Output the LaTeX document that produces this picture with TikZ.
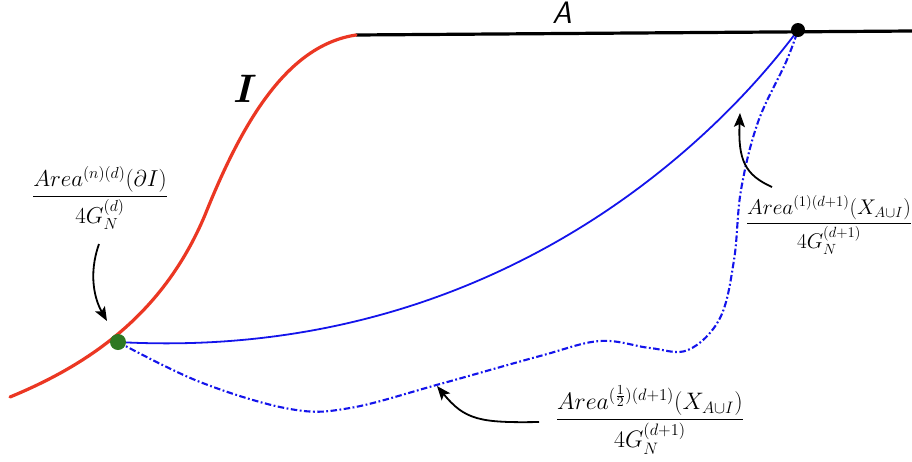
\documentclass[tikz,border=0pt]{standalone}
\usepackage{amsmath,amssymb}
\usepackage{graphicx}
\usepackage{xcolor}
\usetikzlibrary{arrows.meta}

\definecolor{bdyred}{RGB}{235,55,35}
\definecolor{geoblue}{RGB}{20,20,235}
\definecolor{dotgreen}{RGB}{45,120,35}

% math fonts stop at 17.28pt, so blow the label up
\newcommand{\bigmath}[2]{\scalebox{#1}{\fontsize{17.28}{20}\selectfont$\displaystyle #2$}}

\tikzset{
  pointer/.style={black,line width=1.8pt,-{Stealth[length=14pt,width=11pt,inset=3pt]}},
  arealabel/.style={inner sep=0pt},
  dashdotline/.style={geoblue,line width=2.1pt,dash pattern=on 6.5pt off 2.5pt on 1.8pt off 2.5pt}
}

\begin{document}
\begin{tikzpicture}[x=1pt,y=-1pt]
  % pixel frame of the reference, y pointing down
  \useasboundingbox (0,0) rectangle (912,461);
  % region A and the bulk curve I
  \draw[line width=3.2pt] (356,35) -- (912,31);
  \draw[bdyred,line width=3.2pt,line cap=round] (10,397) .. controls (95,362) and (165,310) .. (205,215)
    .. controls (245,115) and (290,45) .. (356,35);
  \node[inner sep=0pt] (Ilab) at (245,89) {\bigmath{2.3}{\boldsymbol{I}}};
  \node[font=\sffamily\itshape\fontsize{31}{31}\selectfont] (Alab) at (562,13) {A};
  % surfaces ending on the two points
  \coordinate (gdot) at (118,342);
  \coordinate (bdot) at (798,30);
  \draw[geoblue,line width=1.8pt] (gdot) .. controls (480,362) and (705,155) .. (bdot);
  \draw[dashdotline] plot[smooth,tension=0.6] coordinates {(118,342) (200,382) (290,409) (350,408)
    (440,384) (540,356) (600,341) (650,348) (688,350) (720,318) (734,260) (741,190) (758,122) (786,62) (798,30)};
  \fill[dotgreen] (gdot) circle (8pt);
  \fill[black] (bdot) circle (7pt);
  % labels and their pointers
  \node[arealabel] (lbI) at (100,198) {\bigmath{1.33}{\frac{Area^{(n)(d)}(\partial I)}{4G_N^{(d)}}}};
  \node[arealabel] (lbone) at (829,225) {\bigmath{1.23}{\frac{Area^{(1)(d+1)}(X_{A\cup I})}{4G_N^{(d+1)}}}};
  \node[arealabel] (lbhalf) at (650,420) {\bigmath{1.38}{\frac{Area^{(\frac12)(d+1)}(X_{A\cup I})}{4G_N^{(d+1)}}}};
  \coordinate (tI) at (99,244);
  \coordinate (hI) at (107,321);
  \coordinate (tone) at (772,187);
  \coordinate (hone) at (740,113);
  \coordinate (thalf) at (539,422);
  \coordinate (hhalf) at (437,386);
  \draw[pointer] (tI) .. controls (88,275) and (95,300) .. (hI);
  \draw[pointer] (tone) .. controls (745,175) and (738,160) .. (hone);
  \draw[pointer] (thalf) .. controls (480,423) and (465,420) .. (hhalf);
\end{tikzpicture}
\end{document}
